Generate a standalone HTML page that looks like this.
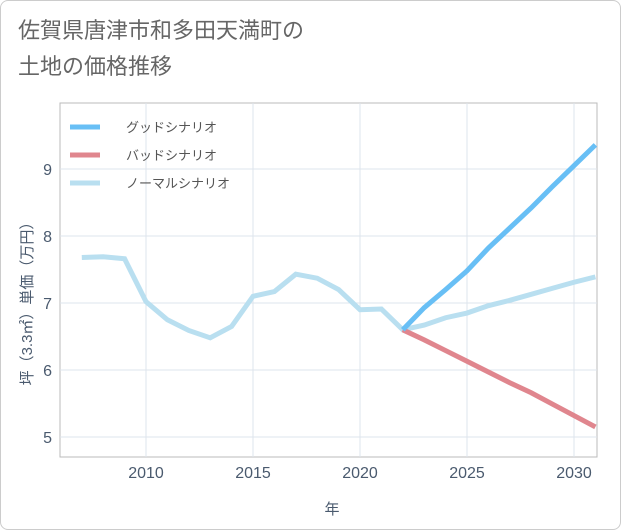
<!DOCTYPE html>
<html><head><meta charset="utf-8"><style>
body{margin:0;background:#fff;font-family:"Liberation Sans","Noto Sans CJK JP",sans-serif}
#wrap{position:relative;width:619px;height:528px;border:1px solid #ccc;border-radius:8px;background:#fff}
</style></head><body>
<div id="wrap">
<svg id="c" width="621" height="530" style="position:absolute;left:-1px;top:-1px">
<text x="18" y="38" font-size="22" fill="#666">佐賀県唐津市和多田天満町の</text>
<text x="18" y="74" font-size="22" fill="#666">土地の価格推移</text>
<g id="grid"></g><g id="marks"></g><g id="legend"></g>
<text x="332" y="514" font-size="15" fill="#4a5a6e" text-anchor="middle">年</text>
<text transform="translate(32,300) rotate(-90)" font-size="15" fill="#4a5a6e" text-anchor="middle">坪（3.3㎡）単価（万円）</text>
</svg></div>
<script>
const years=[2007,2008,2009,2010,2011,2012,2013,2014,2015,2016,2017,2018,2019,2020,2021,2022,2023,2024,2025,2026,2027,2028,2029,2030,2031];
const normal=[7.68,7.69,7.66,7.02,6.75,6.59,6.48,6.65,7.10,7.17,7.43,7.37,7.20,6.90,6.91,6.60,6.67,6.78,6.85,6.96,7.04,7.13,7.22,7.31,7.39];
const fYears=[2022,2023,2024,2025,2026,2027,2028,2029,2030,2031];
const good=[6.60,6.93,7.20,7.48,7.82,8.12,8.42,8.74,9.05,9.36];
const bad=[6.60,6.45,6.29,6.13,5.97,5.81,5.66,5.49,5.32,5.15];
const xTicks=[2010,2015,2020,2025,2030];
const yTicks=[5,6,7,8,9];
const X0=60,X1=597,Y0=103,Y1=457;
const x=v=>146+(v-2010)*21.4;
const y=v=>437-(v-5)*67;
const ns="http://www.w3.org/2000/svg";
function mk(p,t,a){const e=document.createElementNS(ns,t);for(const k in a)e.setAttribute(k,a[k]);p.appendChild(e);return e;}
const g=document.getElementById('grid');
const fr=mk(g,'rect',{x:X0,y:Y0,width:X1-X0,height:Y1-Y0,fill:'none',stroke:'#bbb'});


xTicks.forEach(v=>{const l=mk(g,'line',{x1:x(v),x2:x(v),y1:Y0,y2:Y1,stroke:'#dde4ec'});


const t=mk(g,'text',{x:x(v),y:478,'font-size':16,fill:'#4a5a6e','text-anchor':'middle'});t.textContent=v;

});
yTicks.forEach(v=>{const l=mk(g,'line',{x1:X0,x2:X1,y1:y(v),y2:y(v),stroke:'#dde4ec'});


const t=mk(g,'text',{x:52,y:y(v)+6,'font-size':16,fill:'#4a5a6e','text-anchor':'end'});t.textContent=v;

});
const m=document.getElementById('marks');
function line(xs,ys,c,n){const p=mk(m,'polyline',{points:xs.map((v,i)=>x(v)+','+y(ys[i])).join(' '),fill:'none',stroke:c,'stroke-width':5});

}
m.setAttribute('clip-path','url(#cp)');
const cp=mk(document.getElementById('c'),'clipPath',{id:'cp'});mk(cp,'rect',{x:X0,y:Y0,width:X1-X0,height:Y1-Y0});
line(years,normal,'#b9dff0','normal-line');
line(fYears,bad,'#e0868e','bad-line');
line(fYears,good,'#68bff5','good-line');
const lg=document.getElementById('legend');
[['グッドシナリオ','#68bff5',127],['バッドシナリオ','#e0868e',155],['ノーマルシナリオ','#b9dff0',183]].forEach(([t,c,yy])=>{
const l=mk(lg,'line',{x1:70,x2:100,y1:yy,y2:yy,stroke:c,'stroke-width':5});


const tx=mk(lg,'text',{x:126,y:yy+5,'font-size':13,fill:'#555'});tx.textContent=t;

});
</script></body></html>
